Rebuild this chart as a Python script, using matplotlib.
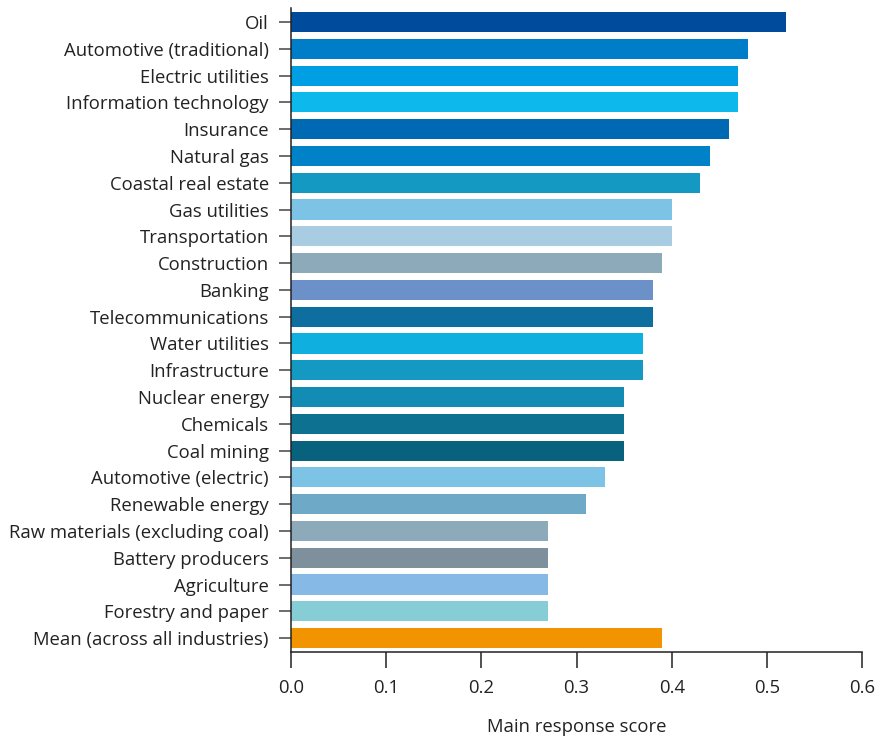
import matplotlib.pyplot as plt

industries = [
    "Oil", "Automotive (traditional)", "Electric utilities", "Information technology",
    "Insurance", "Natural gas", "Coastal real estate", "Gas utilities", "Transportation",
    "Construction", "Banking", "Telecommunications", "Water utilities", "Infrastructure",
    "Nuclear energy", "Chemicals", "Coal mining", "Automotive (electric)", "Renewable energy",
    "Raw materials (excluding coal)", "Battery producers", "Agriculture", "Forestry and paper",
    "Mean (across all industries)",
]
scores = [0.52, 0.48, 0.47, 0.47, 0.46, 0.44, 0.43, 0.40, 0.40, 0.39, 0.38, 0.38,
          0.37, 0.37, 0.35, 0.35, 0.35, 0.33, 0.31, 0.27, 0.27, 0.27, 0.27, 0.39]
colors = [
    "#004B9B", "#007DC8", "#009FE3", "#0DB9EC", "#0069B4", "#0082C8", "#1499C3",
    "#7DC3E6", "#A8CDE2", "#8CAAB9", "#6B91C8", "#0F6EA0", "#0FAFDF", "#1499C3",
    "#128CB4", "#0D7291", "#08627D", "#7DC3E6", "#6EAAC8", "#8CAAB9", "#7D909B",
    "#87B9E6", "#87CDD5", "#F29400",
]
xticks = [0.0, 0.1, 0.2, 0.3, 0.4, 0.5, 0.6]

plt.rcParams['font.family'] = ['Open Sans', 'DejaVu Sans']
text_color = "#222222"
fs = 13.3

fig = plt.figure(figsize=(8.77, 7.38), dpi=100)
ax = fig.add_axes([0.3318, 0.1165, 0.983 - 0.3318, 0.989 - 0.1165])

ypos = list(range(len(industries)))
ax.barh(ypos, scores, height=0.75, color=colors)

ax.set_ylim(len(industries) - 0.48, -0.52)
ax.set_xlim(0, 0.6)
ax.set_yticks(ypos)
ax.set_yticklabels(industries, fontsize=fs, color=text_color)
ax.set_xticks(xticks)
ax.set_xticklabels([f"{t:.1f}" for t in xticks], fontsize=fs, color=text_color)
ax.set_xlabel("Main response score", fontsize=fs, color=text_color, labelpad=15)

for s in ["top", "right"]:
    ax.spines[s].set_visible(False)
for s in ["left", "bottom"]:
    ax.spines[s].set_linewidth(1.1)
    ax.spines[s].set_color("#222222")
ax.tick_params(axis="x", length=11.5, width=1.1, pad=8, color="#222222")
ax.tick_params(axis="y", length=8.5, width=1.1, pad=7.5, color="#444444")

fig.savefig("out.png", dpi=100)
